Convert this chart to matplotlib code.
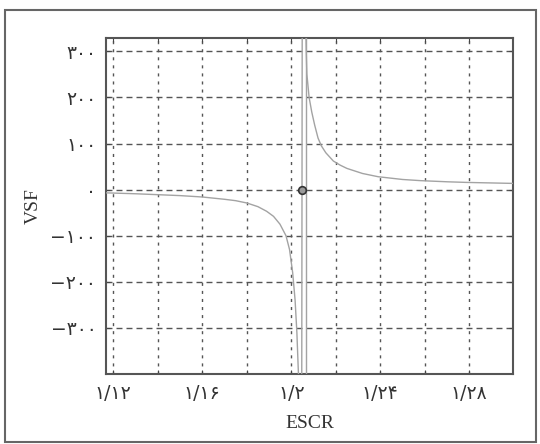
import matplotlib
matplotlib.use('Agg')
import matplotlib.pyplot as plt
from matplotlib.patches import Rectangle

# VSF against ESCR, left and right branches of the curve around the pole
left_escr = [1.1167, 1.13, 1.14, 1.15, 1.16, 1.17, 1.175, 1.18, 1.185, 1.1889,
             1.192, 1.1949, 1.1976, 1.1992, 1.2006, 1.2017, 1.2025, 1.2032, 1.2040]
left_vsf = [-7, -9, -11, -13, -16, -21, -24, -29, -37, -47,
            -58, -75, -100, -130, -180, -240, -310, -400, -3000]
right_escr = [1.2056, 1.2066, 1.2067, 1.2070, 1.2080, 1.2092, 1.2105, 1.2120,
              1.2135, 1.2155, 1.2189, 1.222, 1.225, 1.232, 1.239, 1.25,
              1.258, 1.27, 1.279, 1.2995]
right_vsf = [3000, 330, 300, 250, 200, 168, 140, 112,
             95, 80, 62, 53, 46, 35, 28, 22,
             19.5, 17, 15.6, 13.5]

pole_escr = 1.2066
zero_cross = (1.2048, 0)

x_ticks = [1.12, 1.14, 1.16, 1.18, 1.20, 1.22, 1.24, 1.26, 1.28]
x_labels = ['۱/۱۲', '', '۱/۱۶', '', '۱/۲', '', '۱/۲۴', '', '۱/۲۸']
y_ticks = [-300, -200, -100, 0, 100, 200, 300]
y_labels = ['−۳۰۰', '−۲۰۰', '−۱۰۰', '۰', '۱۰۰', '۲۰۰', '۳۰۰']

fig = plt.figure(figsize=(5.4, 4.44), dpi=100)
ax = fig.add_axes([0.1963, 0.1577, 0.7531, 0.7578])

curve_x = left_escr + right_escr
curve_y = left_vsf + right_vsf
ax.plot(curve_x, curve_y, color='#a3a3a3', lw=1.0, zorder=3)
ax.axvline(pole_escr, color='#a3a3a3', lw=1.0, zorder=3)
ax.plot([zero_cross[0]], [zero_cross[1]], 'o', ms=5.5, mfc='#9a9a9a',
        mec='#333333', mew=1.2, zorder=4)

ax.set_xlim(1.1167, 1.2995)
ax.set_ylim(-400, 330)
ax.set_xticks(x_ticks)
ax.set_xticklabels(x_labels, family=['DejaVu Sans'], fontsize=13.5, color='#333333')
ax.set_yticks(y_ticks)
ax.set_yticklabels(y_labels, family=['DejaVu Sans'], fontsize=13.5, color='#333333')
ax.tick_params(direction='in', length=3, color='#444444', pad=7, top=True, right=True)

# grid: dotted verticals, dashed horizontals
for x in x_ticks:
    ax.axvline(x, color='#555555', lw=1.0, ls=(0, (2.2, 3.6)), zorder=1)
for y in y_ticks:
    ax.axhline(y, color='#555555', lw=1.0, ls=(0, (4.3, 2.9)), zorder=1)

for s in ax.spines.values():
    s.set_color('#555555')
    s.set_linewidth(1.5)

ax.set_xlabel('ESCR', family='Liberation Serif', fontsize=14, color='#333333', labelpad=9)
ax.set_ylabel('VSF', family='Liberation Serif', fontsize=14, color='#333333', labelpad=6)

fig.patches.append(Rectangle((5 / 540, 2 / 444), 531 / 540, 432 / 444,
                             transform=fig.transFigure, fill=False,
                             edgecolor='#666666', lw=1.5))

fig.savefig('out.png', dpi=100)
